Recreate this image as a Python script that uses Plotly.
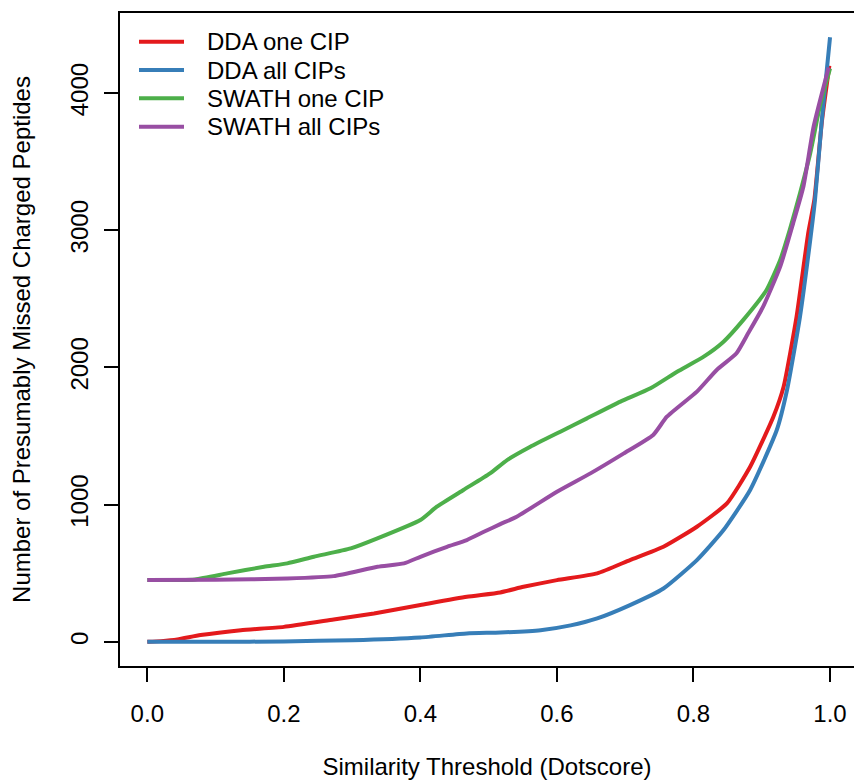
import plotly.graph_objects as go

# Similarity threshold (dotscore) and number of presumably missed charged peptides
dda_one_x = [0, 0.02, 0.044, 0.078, 0.137, 0.2, 0.273, 0.332, 0.4, 0.468, 0.517, 0.551,
             0.6, 0.659, 0.707, 0.756, 0.805, 0.849, 0.883, 0.917, 0.932, 0.951, 0.968,
             0.977, 0.988, 0.999]
dda_one_y = [0, 5, 17, 49, 85, 109, 163, 207, 268, 328, 360, 401,
             450, 499, 596, 693, 839, 1009, 1276, 1641, 1860, 2371, 2979,
             3222, 3790, 4200]

dda_all_x = [0, 0.1, 0.2, 0.3, 0.4, 0.468, 0.517, 0.576, 0.62, 0.659, 0.707, 0.756,
             0.805, 0.844, 0.883, 0.922, 0.937, 0.956, 0.971, 0.978, 0.988, 1.0]
dda_all_y = [0, 0, 3, 12, 32, 61, 68, 85, 120, 171, 268, 389,
             596, 815, 1107, 1544, 1836, 2371, 2930, 3222, 3805, 4408]

swath_one_x = [0, 0.07, 0.117, 0.171, 0.205, 0.244, 0.298, 0.337, 0.4, 0.424, 0.463,
               0.502, 0.527, 0.561, 0.605, 0.644, 0.693, 0.737, 0.776, 0.815, 0.844,
               0.873, 0.907, 0.927, 0.941, 0.956, 0.971, 0.985, 1.0]
swath_one_y = [450, 455, 499, 547, 572, 620, 681, 754, 888, 985, 1107,
               1228, 1325, 1422, 1532, 1629, 1751, 1848, 1969, 2079, 2188,
               2347, 2565, 2784, 3003, 3270, 3562, 3902, 4180]

swath_all_x = [0, 0.1, 0.205, 0.273, 0.337, 0.376, 0.4, 0.439, 0.468, 0.493, 0.517,
               0.541, 0.6, 0.649, 0.698, 0.741, 0.761, 0.805, 0.834, 0.863, 0.88,
               0.902, 0.927, 0.946, 0.961, 0.976, 0.998]
swath_all_y = [450, 452, 462, 479, 547, 572, 620, 693, 742, 802, 858,
               912, 1094, 1228, 1374, 1508, 1641, 1824, 1982, 2104, 2249,
               2443, 2735, 3052, 3319, 3757, 4187]

series_names = ["DDA one CIP", "DDA all CIPs", "SWATH one CIP", "SWATH all CIPs"]
series_colors = ["#E41A1C", "#377EB8", "#4DAF4A", "#984EA3"]
x_ticks = [0.0, 0.2, 0.4, 0.6, 0.8, 1.0]
y_ticks = [0, 1000, 2000, 3000, 4000]

FONT = "Liberation Sans, Arial, Helvetica, sans-serif"
FS = 24

W, H = 854, 781
ML, MR, MT, MB = 120, 0, 13, 115
PW, PH = W - ML - MR, H - MT - MB

fig = go.Figure()
for name, color, xs, ys in zip(
        series_names, series_colors,
        [dda_one_x, dda_all_x, swath_one_x, swath_all_x],
        [dda_one_y, dda_all_y, swath_one_y, swath_all_y]):
    fig.add_trace(go.Scatter(x=xs, y=ys, mode="lines", name=name, showlegend=False,
                             line=dict(color=color, width=4, shape="spline",
                                       smoothing=0.5)))

# Frameless legend in the top-left corner: a line sample and a label per series
def px_x(p):
    return (p - ML) / PW

def px_y(p):
    return 1 - (p - MT) / PH

row_y = [41.7, 70.0, 98.3, 126.7]
for name, color, ry in zip(series_names, series_colors, row_y):
    fig.add_shape(type="line", xref="paper", yref="paper",
                  x0=px_x(139), x1=px_x(184), y0=px_y(ry), y1=px_y(ry),
                  line=dict(color=color, width=4))
    fig.add_annotation(xref="paper", yref="paper", x=px_x(205), y=px_y(ry),
                       xanchor="left", yanchor="middle", text=name, showarrow=False,
                       font=dict(family=FONT, size=FS, color="black"))

fig.update_layout(
    width=W, height=H,
    margin=dict(l=ML, r=MR, t=MT, b=MB),
    paper_bgcolor="white", plot_bgcolor="white",
    font=dict(family=FONT, size=FS, color="black"),
    showlegend=False,
    xaxis=dict(range=[-0.04, 1.0351], tickvals=x_ticks,
               ticktext=["%.1f" % v for v in x_ticks],
               showgrid=False, zeroline=False,
               showline=True, linecolor="black", linewidth=2, mirror=True,
               ticks="outside", ticklen=14, tickwidth=2, tickcolor="black",
               ticklabelstandoff=11,
               title=dict(text="Similarity Threshold (Dotscore)", standoff=32,
                          font=dict(size=FS))),
    yaxis=dict(range=[-176.3, 4584.3], tickvals=y_ticks,
               ticktext=[str(v) for v in y_ticks], tickangle=-90,
               showgrid=False, zeroline=False,
               showline=True, linecolor="black", linewidth=2, mirror=False,
               ticks="outside", ticklen=14, tickwidth=2, tickcolor="black",
               ticklabelstandoff=6,
               title=dict(text="Number of Presumably Missed Charged Peptides",
                          standoff=29, font=dict(size=FS))),
)

fig.write_html("out.html")
